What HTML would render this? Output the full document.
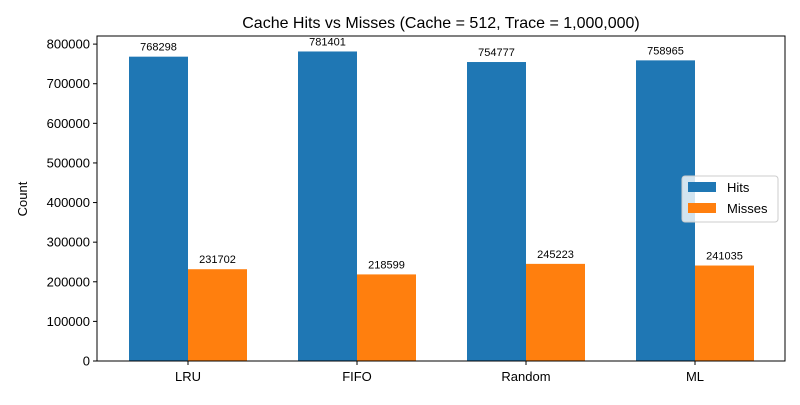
<!DOCTYPE html>
<html><head><meta charset="utf-8"><style>
body{margin:0;background:#fff;}
svg{font-family:"Liberation Sans","DejaVu Sans",sans-serif;}
</style></head><body>
<svg id="chart" width="800" height="400" xmlns="http://www.w3.org/2000/svg">
<text x="441" y="28" font-size="16" text-anchor="middle">Cache Hits vs Misses  (Cache = 512, Trace = 1,000,000)</text>
<text transform="translate(27,199) rotate(-90)" font-size="13" text-anchor="middle">Count</text>
<g id="plot"></g>
<rect x="97" y="36" width="688" height="325" fill="none" stroke="#000" stroke-width="1"/>
<g>
<rect x="682" y="176" width="96" height="46" rx="3" fill="#fff" fill-opacity="0.8" stroke="#ccc"/>
<rect x="688" y="182" width="28" height="10" fill="#1f77b4"/>
<text x="727" y="192" font-size="13">Hits</text>
<rect x="688" y="203" width="28" height="10" fill="#ff7f0e"/>
<text x="727" y="213" font-size="13">Misses</text>
</g>
</svg>
<script>
const categories=["LRU","FIFO","Random","ML"];
const hits=[768298,781401,754777,758965];
const misses=[231702,218599,245223,241035];
const yTicks=[0,100000,200000,300000,400000,500000,600000,700000,800000];
const NS="http://www.w3.org/2000/svg";
const g=document.getElementById("plot");
const top0=36,bot=361,left=97,right=785;
const yMax=Math.max(...hits,...misses)*1.05;
const y=v=>bot-(v/yMax)*(bot-top0);
const x0=188;
const step=169;
const xc=i=>x0+i*step;
const bw=59;
function mk(t,a){const e=document.createElementNS(NS,t);for(const k in a)e.setAttribute(k,a[k]);g.appendChild(e);return e;}
yTicks.forEach(v=>{
 const l=mk("line",{x1:left-4,x2:left,y1:y(v),y2:y(v),stroke:"#000"});
 
 
 const t=mk("text",{x:left-7,y:y(v)+4.5,"font-size":13,"text-anchor":"end"});
 t.textContent=v;
 
 
});
categories.forEach((c,i)=>{
 const cx=xc(i);
 const l=mk("line",{x1:cx,x2:cx,y1:bot,y2:bot+4,stroke:"#000"});
 
 
 const t=mk("text",{x:cx,y:bot+20,"font-size":13,"text-anchor":"middle"});
 t.textContent=c;
 
 
 [[hits,"#1f77b4",cx-bw,"hits"],[misses,"#ff7f0e",cx,"misses"]].forEach(([arr,col,bx,nm])=>{
  const r=mk("rect",{x:bx,y:y(arr[i]),width:bw,height:bot-y(arr[i]),fill:col});
  
  
  const lt=mk("text",{x:bx+bw/2,y:y(arr[i])-6,"font-size":11,"text-anchor":"middle"});
  lt.textContent=arr[i];
  
  
 });
});
</script>
</body></html>
